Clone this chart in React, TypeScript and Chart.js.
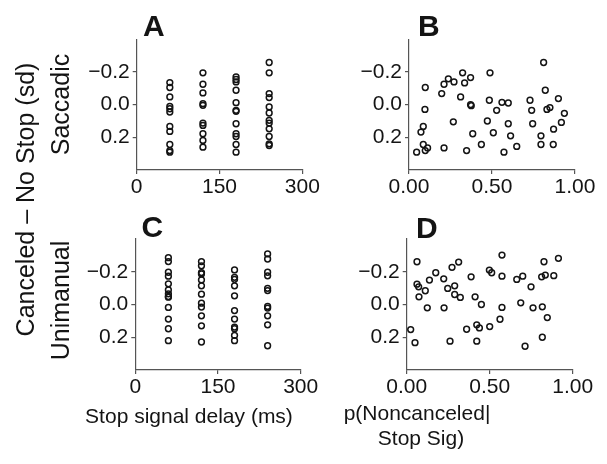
import React, { useEffect, useRef } from "react";
import { Chart, registerables } from "chart.js";

Chart.register(...registerables);

const FONT = "'Liberation Sans', Arial, Helvetica, sans-serif";
const INK = "#141414";
const AXIS = "#555555";

// tick values
const yTicks = [-0.2, 0, 0.2];
const ssdTicks = [0, 150, 300];
const probTicks = [0, 0.5, 1];

// stop signal delays (ms)
const ssdLevels = [60, 120, 180, 240];

// Panel A: saccadic, by SSD
const aSsd60 = [-0.135, -0.105, -0.047, 0.01, 0.025, 0.045, 0.133, 0.164, 0.244, 0.281, 0.291];
const aSsd120 = [-0.195, -0.125, -0.072, -0.006, 0.004, 0.113, 0.127, 0.178, 0.219, 0.26];
const aSsd180 = [-0.17, -0.154, -0.139, -0.088, -0.012, 0.035, 0.041, 0.117, 0.178, 0.195, 0.244, 0.291];
const aSsd240 = [-0.258, -0.195, -0.068, -0.043, 0.014, 0.051, 0.096, 0.113, 0.148, 0.195, 0.24, 0.25];

// Panel C: unimanual, by SSD
const cSsd60 = [-0.286, -0.262, -0.197, -0.173, -0.126, -0.089, -0.065, -0.049, -0.045, 0.018, 0.089, 0.148, 0.221];
const cSsd120 = [-0.262, -0.236, -0.195, -0.187, -0.15, -0.114, -0.063, -0.008, 0.016, 0.069, 0.13, 0.229];
const cSsd180 = [-0.211, -0.166, -0.154, -0.114, -0.053, 0.037, 0.089, 0.138, 0.148, 0.189, 0.221];
const cSsd240 = [-0.309, -0.278, -0.197, -0.175, -0.099, -0.085, 0.012, 0.022, 0.069, 0.124, 0.252];

// Panel B: saccadic, by p(noncanceled | stop signal)
const bP = [0.046, 0.072, 0.086, 0.086, 0.096, 0.098, 0.098, 0.112, 0.197, 0.211, 0.211, 0.237, 0.271, 0.267, 0.311, 0.323, 0.335, 0.347, 0.371, 0.371, 0.375, 0.384, 0.436, 0.472, 0.484, 0.488, 0.508, 0.528, 0.56, 0.572, 0.598, 0.598, 0.612, 0.649, 0.729, 0.739, 0.745, 0.795, 0.795, 0.811, 0.821, 0.831, 0.849, 0.869, 0.871, 0.9, 0.918, 0.936];
const bD = [0.291, 0.168, 0.133, 0.244, 0.029, -0.105, 0.281, 0.265, -0.068, -0.125, 0.265, -0.158, -0.139, 0.105, -0.047, -0.195, -0.133, 0.281, -0.166, 0.0, 0.006, 0.178, 0.244, 0.1, -0.027, -0.195, 0.172, 0.035, -0.014, 0.291, -0.01, 0.117, 0.191, 0.256, -0.027, 0.035, 0.117, 0.191, 0.244, -0.258, -0.088, 0.029, 0.018, 0.244, 0.15, -0.037, 0.109, 0.053];

// Panel D: unimanual, by p(noncanceled | stop signal)
const dP = [0.024, 0.05, 0.062, 0.062, 0.072, 0.074, 0.112, 0.124, 0.137, 0.175, 0.223, 0.225, 0.247, 0.261, 0.273, 0.289, 0.289, 0.313, 0.323, 0.361, 0.388, 0.412, 0.422, 0.422, 0.438, 0.45, 0.498, 0.512, 0.5, 0.562, 0.574, 0.574, 0.574, 0.663, 0.687, 0.699, 0.713, 0.749, 0.761, 0.813, 0.817, 0.817, 0.827, 0.835, 0.847, 0.886, 0.914];
const dD = [0.153, 0.233, -0.261, -0.124, -0.108, -0.047, -0.084, 0.02, -0.149, -0.194, -0.157, 0.02, -0.098, 0.224, -0.227, -0.114, -0.061, -0.259, -0.043, 0.151, -0.169, -0.047, 0.124, 0.224, 0.143, 0.0, -0.21, -0.194, 0.135, 0.09, -0.302, -0.173, 0.018, -0.153, -0.01, -0.173, 0.255, -0.108, 0.02, -0.169, 0.014, 0.2, -0.261, -0.18, 0.08, -0.176, -0.282];

type Pt = { x: number; y: number };
type Area = { l: number; t: number; r: number; b: number };

function columns(levels: number[], cols: number[][]): Pt[] {
  const out: Pt[] = [];
  cols.forEach((col, i) => col.forEach((v) => out.push({ x: levels[i], y: v })));
  return out;
}
function pairs(xs: number[], ys: number[]): Pt[] {
  return xs.map((x, i) => ({ x, y: ys[i] }));
}

const fmtY = (v: number) => (v === 0 ? "0.0" : v < 0 ? "\u2212" + Math.abs(v).toFixed(1) : v.toFixed(1));
const fmtSsd = (v: number) => String(v);
const fmtP = (v: number) => v.toFixed(2);

const PAD_L = 100;
const PAD_T = 30;
const PAD_R = 40;
const X_H = 32;
const PAD_B = 10;

function Panel(props: {
  points: Pt[];
  xMin: number;
  xMax: number;
  xTickVals: number[];
  xFmt: (v: number) => string;
  area: Area;
}) {
  const { points, xMin, xMax, xTickVals, xFmt, area } = props;
  const ref = useRef<HTMLCanvasElement | null>(null);
  const cl = Math.floor(area.l) - PAD_L;
  const ct = Math.floor(area.t) - PAD_T;
  const cw = Math.ceil(area.r - cl + PAD_R);
  const ch = Math.ceil(area.b - ct + X_H + PAD_B);
  const yW = area.l - cl;
  const topPad = area.t - ct;
  const rightPad = cw - (area.r - cl);
  const bottomPad = ch - (area.b - ct) - X_H;

  useEffect(() => {
    if (!ref.current) return;
    const tickFont = { family: FONT, size: 21 };
    const chart = new Chart(ref.current, {
      type: "scatter",
      data: {
        datasets: [
          {
            data: points,
            pointRadius: 2.9,
            pointHoverRadius: 2.9,
            pointBorderWidth: 1.5,
            borderColor: INK,
            backgroundColor: "rgba(0,0,0,0)",
            pointStyle: "circle",
          },
        ],
      },
      options: {
        responsive: false,
        animation: false,
        events: [],
        layout: { padding: { left: 0, top: topPad, right: rightPad, bottom: bottomPad } },
        plugins: { legend: { display: false }, tooltip: { enabled: false }, title: { display: false } },
        scales: {
          x: {
            type: "linear",
            min: xMin,
            max: xMax,
            afterFit: (s: any) => {
              s.height = X_H;
            },
            afterBuildTicks: (s: any) => {
              s.ticks = xTickVals.map((v) => ({ value: v }));
            },
            ticks: {
              callback: (v: any) => xFmt(Number(v)),
              font: tickFont,
              color: INK,
              padding: 1,
              maxRotation: 0,
              autoSkip: false,
            },
            grid: { drawOnChartArea: false, drawTicks: true, tickLength: 4, color: AXIS, lineWidth: 1.2 },
            border: { display: true, color: AXIS, width: 1.2 },
          },
          y: {
            type: "linear",
            min: -0.4,
            max: 0.4,
            reverse: true,
            afterFit: (s: any) => {
              s.width = yW;
            },
            afterBuildTicks: (s: any) => {
              s.ticks = yTicks.map((v) => ({ value: v }));
            },
            ticks: {
              callback: (v: any) => fmtY(Number(v)),
              font: tickFont,
              color: INK,
              padding: 3,
              autoSkip: false,
            },
            grid: { drawOnChartArea: false, drawTicks: true, tickLength: 4, color: AXIS, lineWidth: 1.2 },
            border: { display: true, color: AXIS, width: 1.2 },
          },
        },
      } as any,
    });
    return () => chart.destroy();
  }, []);

  return (
    <canvas
      ref={ref}
      width={cw}
      height={ch}
      style={{ position: "absolute", left: cl, top: ct, width: cw, height: ch }}
    />
  );
}

function Letter(props: { ch: string; x: number; capTop: number }) {
  const size = 30;
  return (
    <div
      style={{
        position: "absolute",
        left: props.x,
        top: props.capTop - 0.1305 * size,
        font: `bold ${size}px ${FONT}`,
        lineHeight: `${size}px`,
        color: INK,
        whiteSpace: "nowrap",
      }}
    >
      {props.ch}
    </div>
  );
}

function HText(props: { text: string; cx: number; baseline: number; size: number }) {
  const { size } = props;
  return (
    <div
      style={{
        position: "absolute",
        left: props.cx - 200,
        width: 400,
        textAlign: "center",
        top: props.baseline - 0.8465 * size,
        font: `${size}px ${FONT}`,
        lineHeight: `${size}px`,
        color: INK,
        whiteSpace: "nowrap",
      }}
    >
      {props.text}
    </div>
  );
}

function VText(props: { text: string; cy: number; baseline: number; size: number }) {
  const { size } = props;
  // rotated -90deg: baseline lies to the right of the box centre
  const cx = props.baseline - (0.8465 - 0.5) * size;
  return (
    <div
      style={{
        position: "absolute",
        left: cx - 200,
        top: props.cy - size / 2,
        width: 400,
        height: size,
        textAlign: "center",
        font: `${size}px ${FONT}`,
        lineHeight: `${size}px`,
        color: INK,
        whiteSpace: "nowrap",
        transform: "rotate(-90deg)",
        transformOrigin: "50% 50%",
      }}
    >
      {props.text}
    </div>
  );
}

export default function App() {
  const ptsA = columns(ssdLevels, [aSsd60, aSsd120, aSsd180, aSsd240]);
  const ptsC = columns(ssdLevels, [cSsd60, cSsd120, cSsd180, cSsd240]);
  const ptsB = pairs(bP, bD);
  const ptsD = pairs(dP, dD);
  return (
    <div style={{ position: "absolute", left: 0, top: 0, width: 607, height: 464, background: "#fff", overflow: "hidden" }}>
      <Panel points={ptsA} xMin={0} xMax={300} xTickVals={ssdTicks} xFmt={fmtSsd} area={{ l: 136.7, t: 39.3, r: 302.3, b: 170 }} />
      <Panel points={ptsB} xMin={0} xMax={1} xTickVals={probTicks} xFmt={fmtP} area={{ l: 409, t: 39.3, r: 575, b: 170 }} />
      <Panel points={ptsC} xMin={0} xMax={300} xTickVals={ssdTicks} xFmt={fmtSsd} area={{ l: 135.3, t: 239, r: 300.7, b: 370 }} />
      <Panel points={ptsD} xMin={0} xMax={1} xTickVals={probTicks} xFmt={fmtP} area={{ l: 406.7, t: 239, r: 572.7, b: 370 }} />

      <Letter ch="A" x={143} capTop={15} />
      <Letter ch="B" x={418} capTop={15} />
      <Letter ch="C" x={141.5} capTop={216} />
      <Letter ch="D" x={416} capTop={216.5} />

      <VText text="Canceled – No Stop (sd)" cy={199} baseline={33.5} size={25} />
      <VText text="Saccadic" cy={104} baseline={68.5} size={25} />
      <VText text="Unimanual" cy={300} baseline={68.5} size={25} />

      <HText text="Stop signal delay (ms)" cx={189} baseline={423} size={21} />
      <HText text="p(Noncanceled|" cx={417} baseline={420} size={21} />
      <HText text="Stop Sig)" cx={421} baseline={445} size={21} />
    </div>
  );
}
